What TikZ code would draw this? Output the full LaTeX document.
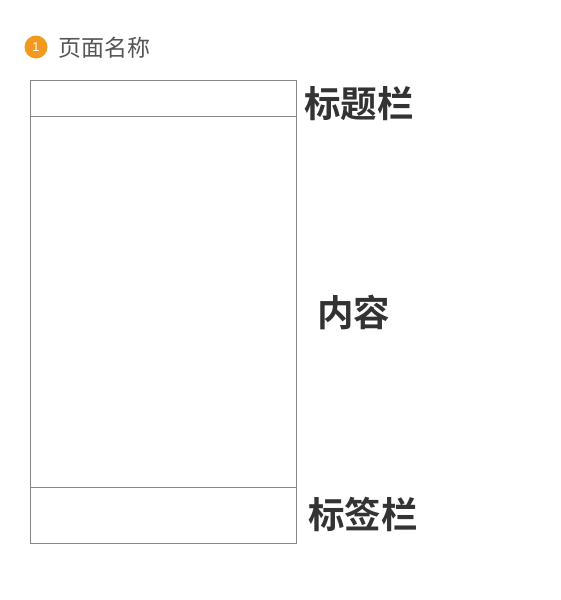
\documentclass[tikz,border=0pt]{standalone}
\usepackage{fontspec}
\newfontfamily\cjk{Noto Sans CJK SC}
\newfontfamily\cjkb{Noto Sans CJK SC Bold}
\newfontfamily\numfont{Liberation Sans}
\definecolor{frameline}{HTML}{888888}
\definecolor{badge}{HTML}{F39A1E}
\definecolor{labeltxt}{HTML}{333333}
\definecolor{titletxt}{HTML}{555555}
\begin{document}
\begin{tikzpicture}[x=1pt,y=-1pt,
  frame/.style={draw=frameline,line width=0.9pt},
  biglabel/.style={font=\cjkb\fontsize{36.5}{40}\selectfont,text=labeltxt,inner sep=0pt,anchor=west}]
\useasboundingbox (0,0) rectangle (561,600);
\draw[frame] (30,80) rectangle (296,543);
\draw[frame] (30,116) -- (296,116);
\draw[frame] (30,487) -- (296,487);
\node[circle,fill=badge,minimum size=23pt,inner sep=0pt,text=white,font=\numfont\fontsize{13}{15}\selectfont] (badge) at (36,47) {1};
\node[anchor=west,inner sep=0pt,font=\cjk\fontsize{23}{26}\selectfont,text=titletxt] (pname) at (58,48) {页面名称};
\node[biglabel] (title) at (304,104) {标题栏};
\node[biglabel] (content) at (317,312) {内容};
\node[biglabel] (tabs) at (308,514) {标签栏};
\end{tikzpicture}
\end{document}
